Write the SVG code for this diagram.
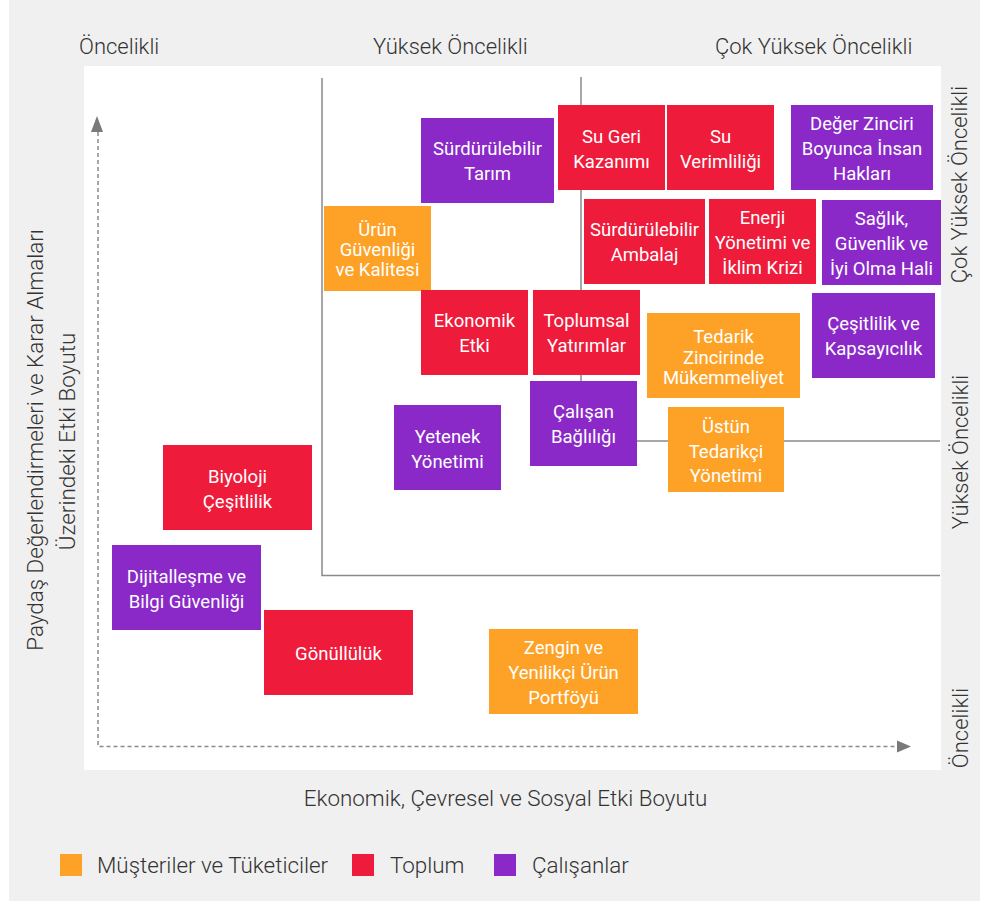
<svg xmlns="http://www.w3.org/2000/svg" width="986" height="901" viewBox="0 0 986 901">
<style>
.lbl{font-family:Roboto,"Open Sans","Liberation Sans",sans-serif;font-weight:300;font-size:22px;fill:#333}
.ax{font-size:22.4px}
.bt{font-family:Roboto,"Open Sans","Liberation Sans",sans-serif;font-size:18.5px;fill:#fff;text-anchor:middle}
.o{fill:#FDA226}.r{fill:#EE1B3B}.p{fill:#8A29C8}
.grid{stroke:#8a8a8a;stroke-width:1.5;fill:none}
.dash{stroke:#8a8a8a;stroke-width:1.5;stroke-dasharray:4 3;fill:none}
.head{fill:#7a7a7a}
</style>
<rect x="0" y="0" width="986" height="901" fill="#fff"/>
<rect x="9" y="0" width="971" height="901" fill="#f0f0f0"/>
<rect x="84" y="66" width="857" height="704" fill="#fff"/>

<g id="labels">
<text class="lbl" x="79" y="54">Öncelikli</text>
<text class="lbl" x="373" y="54">Yüksek Öncelikli</text>
<text class="lbl" x="715" y="54">Çok Yüksek Öncelikli</text>
<text class="lbl" text-anchor="middle" transform="translate(967,184.5) rotate(-90)">Çok Yüksek Öncelikli</text>
<text class="lbl" text-anchor="middle" transform="translate(968,452) rotate(-90)">Yüksek Öncelikli</text>
<text class="lbl" text-anchor="middle" transform="translate(968,728) rotate(-90)">Öncelikli</text>
<text class="lbl ax" text-anchor="middle" transform="translate(43,440) rotate(-90)">Paydaş Değerlendirmeleri ve Karar Almaları</text>
<text class="lbl ax" text-anchor="middle" transform="translate(75,441.5) rotate(-90)">Üzerindeki Etki Boyutu</text>
<text class="lbl ax" x="505.5" y="806" text-anchor="middle">Ekonomik, Çevresel ve Sosyal Etki Boyutu</text>
</g>

<g id="connectors">
<path class="grid" d="M322,78 V575.5 H940"/>
<path class="grid" d="M581,77 V441 H940"/>
<path class="dash" d="M98,132 V746.5 H897"/>
<polygon class="head" points="91,132 103,132 97,116"/>
<polygon class="head" points="897,740.5 897,752.5 911,746.5"/>
</g>

<g id="n-tarim"><rect class="p" x="421" y="118" width="133" height="85"/><text class="bt" x="487.5" y="155">Sürdürülebilir</text><text class="bt" x="487.5" y="180">Tarım</text></g>
<g id="n-urun"><rect class="o" x="324" y="206" width="107" height="85"/><text class="bt" x="377.5" y="236">Ürün</text><text class="bt" x="377.5" y="256">Güvenliği</text><text class="bt" x="377.5" y="276">ve Kalitesi</text></g>
<g id="n-sugeri"><rect class="r" x="558" y="105" width="107" height="85"/><text class="bt" x="611.5" y="143">Su Geri</text><text class="bt" x="611.5" y="168">Kazanımı</text></g>
<g id="n-suverim"><rect class="r" x="667" y="105" width="107" height="85"/><text class="bt" x="720.5" y="143">Su</text><text class="bt" x="720.5" y="168">Verimliliği</text></g>
<g id="n-insan"><rect class="p" x="791" y="105" width="142" height="85"/><text class="bt" x="862" y="130">Değer Zinciri</text><text class="bt" x="862" y="155">Boyunca İnsan</text><text class="bt" x="862" y="180">Hakları</text></g>
<g id="n-ambalaj"><rect class="r" x="584" y="199" width="121" height="85"/><text class="bt" x="644.5" y="236">Sürdürülebilir</text><text class="bt" x="644.5" y="261">Ambalaj</text></g>
<g id="n-enerji"><rect class="r" x="709" y="199" width="107" height="85"/><text class="bt" x="762.5" y="224">Enerji</text><text class="bt" x="762.5" y="249">Yönetimi ve</text><text class="bt" x="762.5" y="274">İklim Krizi</text></g>
<g id="n-saglik"><rect class="p" x="822" y="200" width="119" height="85"/><text class="bt" x="881.5" y="225">Sağlık,</text><text class="bt" x="881.5" y="250">Güvenlik ve</text><text class="bt" x="881.5" y="275">İyi Olma Hali</text></g>
<g id="n-ekonomik"><rect class="r" x="421" y="290" width="107" height="85"/><text class="bt" x="474.5" y="327">Ekonomik</text><text class="bt" x="474.5" y="352">Etki</text></g>
<g id="n-toplumsal"><rect class="r" x="533" y="290" width="107" height="85"/><text class="bt" x="586.5" y="327">Toplumsal</text><text class="bt" x="586.5" y="352">Yatırımlar</text></g>
<g id="n-tedarik"><rect class="o" x="647" y="313" width="153" height="85"/><text class="bt" x="723.5" y="343">Tedarik</text><text class="bt" x="723.5" y="363.5">Zincirinde</text><text class="bt" x="723.5" y="384">Mükemmeliyet</text></g>
<g id="n-cesitlilik"><rect class="p" x="812" y="293" width="123" height="85"/><text class="bt" x="873.5" y="330">Çeşitlilik ve</text><text class="bt" x="873.5" y="355">Kapsayıcılık</text></g>
<g id="n-calisan"><rect class="p" x="530" y="381" width="107" height="85"/><text class="bt" x="583.5" y="418">Çalışan</text><text class="bt" x="583.5" y="443">Bağlılığı</text></g>
<g id="n-yetenek"><rect class="p" x="394" y="405" width="107" height="85"/><text class="bt" x="447.5" y="443">Yetenek</text><text class="bt" x="447.5" y="468">Yönetimi</text></g>
<g id="n-ustun"><rect class="o" x="668" y="407" width="116" height="85"/><text class="bt" x="726" y="433">Üstün</text><text class="bt" x="726" y="457.5">Tedarikçi</text><text class="bt" x="726" y="482">Yönetimi</text></g>
<g id="n-biyoloji"><rect class="r" x="163" y="445" width="149" height="85"/><text class="bt" x="237.5" y="483">Biyoloji</text><text class="bt" x="237.5" y="508">Çeşitlilik</text></g>
<g id="n-dijital"><rect class="p" x="112" y="545" width="149" height="85"/><text class="bt" x="186.5" y="583">Dijitalleşme ve</text><text class="bt" x="186.5" y="608">Bilgi Güvenliği</text></g>
<g id="n-gonulluluk"><rect class="r" x="264" y="610" width="149" height="85"/><text class="bt" x="338.5" y="660">Gönüllülük</text></g>
<g id="n-zengin"><rect class="o" x="489" y="629" width="149" height="85"/><text class="bt" x="563.5" y="654">Zengin ve</text><text class="bt" x="563.5" y="679">Yenilikçi Ürün</text><text class="bt" x="563.5" y="704">Portföyü</text></g>

<g id="legend">
<rect class="o" x="60" y="854" width="22" height="22"/><text class="lbl ax" x="97" y="873">Müşteriler ve Tüketiciler</text>
<rect class="r" x="352" y="854" width="22" height="22"/><text class="lbl ax" x="390" y="873">Toplum</text>
<rect class="p" x="494" y="854" width="22" height="22"/><text class="lbl ax" x="532" y="873">Çalışanlar</text>
</g>
</svg>
